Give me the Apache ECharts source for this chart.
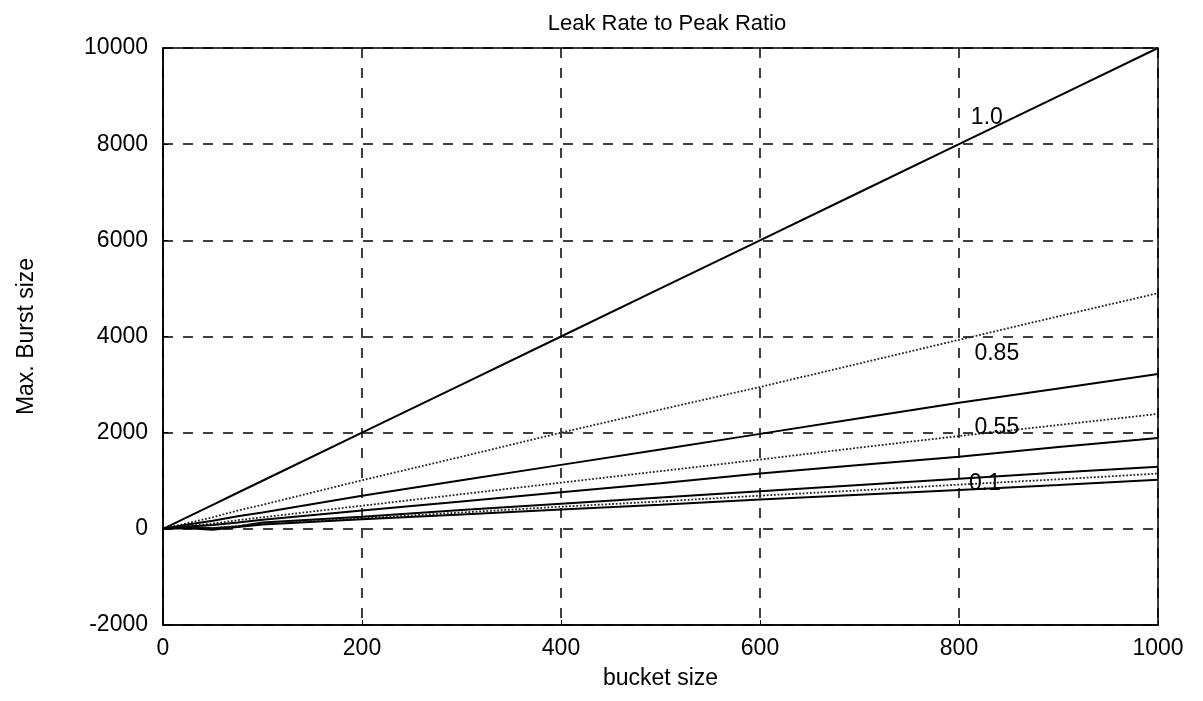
<!DOCTYPE html>
<html>
<head>
<meta charset="utf-8">
<script src="https://cdn.jsdelivr.net/npm/echarts@6/dist/echarts.min.js"></script>
<style>
html,body{margin:0;padding:0;background:#fff;}
#container{width:1203px;height:701px;}
</style>
</head>
<body>
<div id="container"></div>
<script>
// bucket size (x) and max burst size for each curve
var xs = [0, 25, 50, 75, 100, 200, 300, 400, 500, 600, 700, 800, 900, 1000];
var r100 = [0, 250, 500, 750, 1000, 2000, 3000, 4000, 5000, 6000, 7000, 8000, 9000, 10000];
var r085 = [0, 120, 240, 380, 500, 1010, 1500, 2000, 2480, 2950, 3440, 3930, 4420, 4900];
var rS3 = [0, 90, 170, 260, 340, 690, 1010, 1330, 1650, 1975, 2300, 2620, 2920, 3220];
var r055 = [0, 60, 110, 180, 240, 480, 720, 960, 1200, 1440, 1690, 1930, 2160, 2390];
var rS5 = [0, 50, 80, 130, 190, 380, 570, 760, 950, 1150, 1330, 1500, 1700, 1890];
var rS6 = [0, 40, 10, 50, 130, 250, 390, 520, 650, 780, 910, 1040, 1170, 1290];
var rD7 = [0, 30, 20, 60, 110, 220, 340, 460, 570, 690, 800, 920, 1030, 1150];
var r010 = [0, 10, -20, 40, 90, 200, 300, 400, 500, 610, 710, 810, 910, 1020];
var curveLabels = [['1.0', 828, 8550], ['0.85', 838, 3650], ['0.55', 838, 2100], ['0.1', 826, 935]];

function pts(arr){
    return xs.map(function(x, i){ return [x, arr[i]]; });
}
function tag(lbl){
    return {
        symbol: 'circle', symbolSize: 0, silent: true,
        label: {show: true, position: 'inside', formatter: lbl[0], color: '#000',
                fontSize: 23, fontFamily: 'Liberation Sans'},
        data: [{coord: [lbl[1], lbl[2]]}]
    };
}
function line(arr, dotted, width, lbl){
    var s = {
        type: 'line', data: pts(arr), showSymbol: false, smooth: false,
        lineStyle: {color: dotted ? '#222' : '#000', width: width, type: dotted ? 'dotted' : 'solid'},
        animation: false
    };
    if (lbl) s.markPoint = tag(lbl);
    return s;
}

var myChart = echarts.init(document.getElementById('container'));
var font = 'Liberation Sans';
var option = {
    backgroundColor: '#fff',
    title: {
        text: 'Leak Rate to Peak Ratio',
        left: 662, top: 8, textAlign: 'center',
        textStyle: {fontSize: 22, fontWeight: 'normal', color: '#000', fontFamily: font}
    },
    grid: {left: 163, right: 45, top: 48, bottom: 76, show: true, borderColor: '#000', borderWidth: 1.5},
    xAxis: {
        type: 'value', min: 0, max: 1000, interval: 200,
        name: 'bucket size', nameLocation: 'middle', nameGap: 42,
        nameTextStyle: {fontSize: 23, color: '#000', fontFamily: font},
        axisLine: {show: true, onZero: false, lineStyle: {color: '#000', width: 1.5}},
        axisTick: {show: true, inside: true, length: 5, lineStyle: {color: '#000'}},
        axisLabel: {fontSize: 23, color: '#000', margin: 12, fontFamily: font,
                    formatter: function(v){ return String(v); }},
        splitLine: {show: true, lineStyle: {color: '#000', type: [10, 10], width: 1.5}}
    },
    yAxis: {
        type: 'value', min: -2000, max: 10000, interval: 2000,
        name: 'Max. Burst size', nameLocation: 'middle', nameGap: 125, nameRotate: 90,
        nameTextStyle: {fontSize: 23, color: '#000', fontFamily: font},
        axisLine: {show: true, onZero: false, lineStyle: {color: '#000', width: 1.5}},
        axisTick: {show: true, inside: true, length: 5, lineStyle: {color: '#000'}},
        axisLabel: {fontSize: 23, color: '#000', margin: 15, fontFamily: font,
                    formatter: function(v){ return String(v); }},
        splitLine: {show: true, lineStyle: {color: '#000', type: [10, 10], width: 1.5}}
    },
    series: [
        line(r100, false, 2, curveLabels[0]),
        line(r085, true, 1.8, curveLabels[1]),
        line(rS3, false, 2),
        line(r055, true, 1.8, curveLabels[2]),
        line(rS5, false, 2),
        line(rS6, false, 2),
        line(rD7, true, 1.8),
        line(r010, false, 2, curveLabels[3])
    ]
};
myChart.setOption(option);
</script>
</body>
</html>
